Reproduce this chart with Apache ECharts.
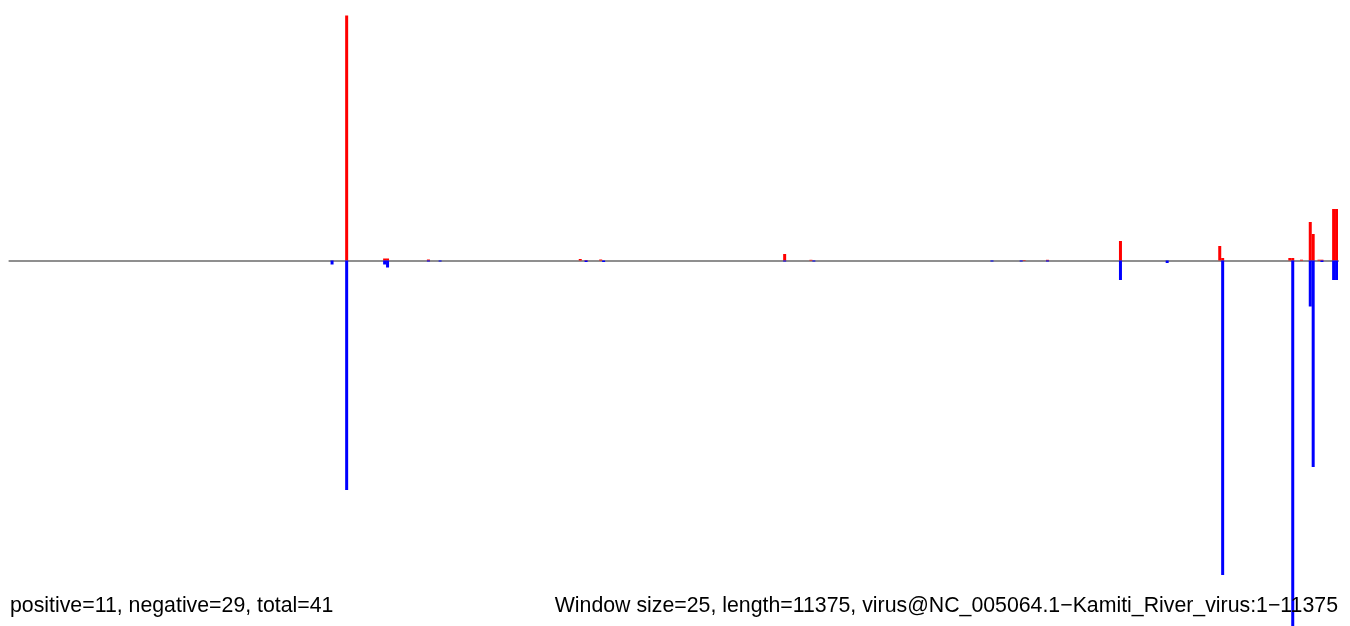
<!DOCTYPE html>
<html>
<head>
<meta charset="utf-8">
<script src="https://cdn.jsdelivr.net/npm/echarts@6/dist/echarts.min.js"></script>
<style>html,body{margin:0;padding:0;background:#fff}#c{width:1350px;height:626px}</style>
</head>
<body>
<div id="c"></div>
<script>
// 455 windows of 25 nt over 11375 nt
const windowCount = 455;
const windows = Array.from({length: windowCount}, (_, i) => String(i * 25 + 1));
// positive (red) values: [window index, value]
const positivePoints = [
  [115, 245], [128, 2], [129, 2], [143, 1], [195, 1.5], [197, 0.5], [202, 1],
  [265, 6.5], [274, 0.7], [347, 0.5], [355, 0.7], [380, 19.5], [414, 14.5],
  [415, 2.5], [438, 2.5], [439, 2.5], [442, 0.8], [445, 38.5], [446, 26.5],
  [448, 0.8], [449, 0.8], [453, 51.5], [454, 51.5]
];
// negative (blue) values
const negativePoints = [
  [110, -4], [115, -229.5], [128, -4], [129, -7], [143, -1], [147, -1],
  [197, -1.5], [203, -1.5], [265, -1], [275, -1], [336, -1], [346, -1],
  [355, -1], [380, -19.5], [396, -2.5], [415, -314.5], [439, -366],
  [445, -46], [446, -206.5], [449, -1.5], [453, -19.5], [454, -19.5]
];
const leftLabel = 'positive=11, negative=29, total=41';
const rightLabel = 'Window size=25, length=11375, virus@NC_005064.1\u2212Kamiti_River_virus:1\u221211375';

function fill(points) {
  const arr = new Array(windowCount).fill(null);
  points.forEach(([i, v]) => { arr[i] = v; });
  return arr;
}
const posData = fill(positivePoints);
const negData = fill(negativePoints);

const chart = echarts.init(document.getElementById('c'), null, {renderer: 'canvas'});
chart.setOption({
  animation: false,
  backgroundColor: '#ffffff',
  grid: {left: 9.4, right: 12, top: 0, bottom: 0},
  xAxis: {
    type: 'category', data: windows,
    axisLine: {show: true, onZero: true, lineStyle: {color: '#8f8f8f', width: 2}},
    axisTick: {show: false}, axisLabel: {show: false}, splitLine: {show: false}
  },
  yAxis: {
    type: 'value', min: -365.5, max: 260.5,
    axisLine: {show: false}, axisTick: {show: false}, axisLabel: {show: false}, splitLine: {show: false}
  },
  series: [
    {type: 'bar', data: posData, barWidth: 3, barGap: '-100%', itemStyle: {color: '#ff0000'}, clip: true},
    {type: 'bar', data: negData, barWidth: 3, barGap: '-100%', itemStyle: {color: '#0000ff'}, clip: true}
  ],
  graphic: [
    {type: 'text', left: 10, top: 596, z: 100,
     style: {text: leftLabel, fill: '#000', font: '21.3px "Liberation Sans", Arial, Helvetica, sans-serif'}},
    {type: 'text', right: 12, top: 596, z: 100,
     style: {text: rightLabel, fill: '#000', font: '21.3px "Liberation Sans", Arial, Helvetica, sans-serif'}}
  ]
});
</script>
</body>
</html>
